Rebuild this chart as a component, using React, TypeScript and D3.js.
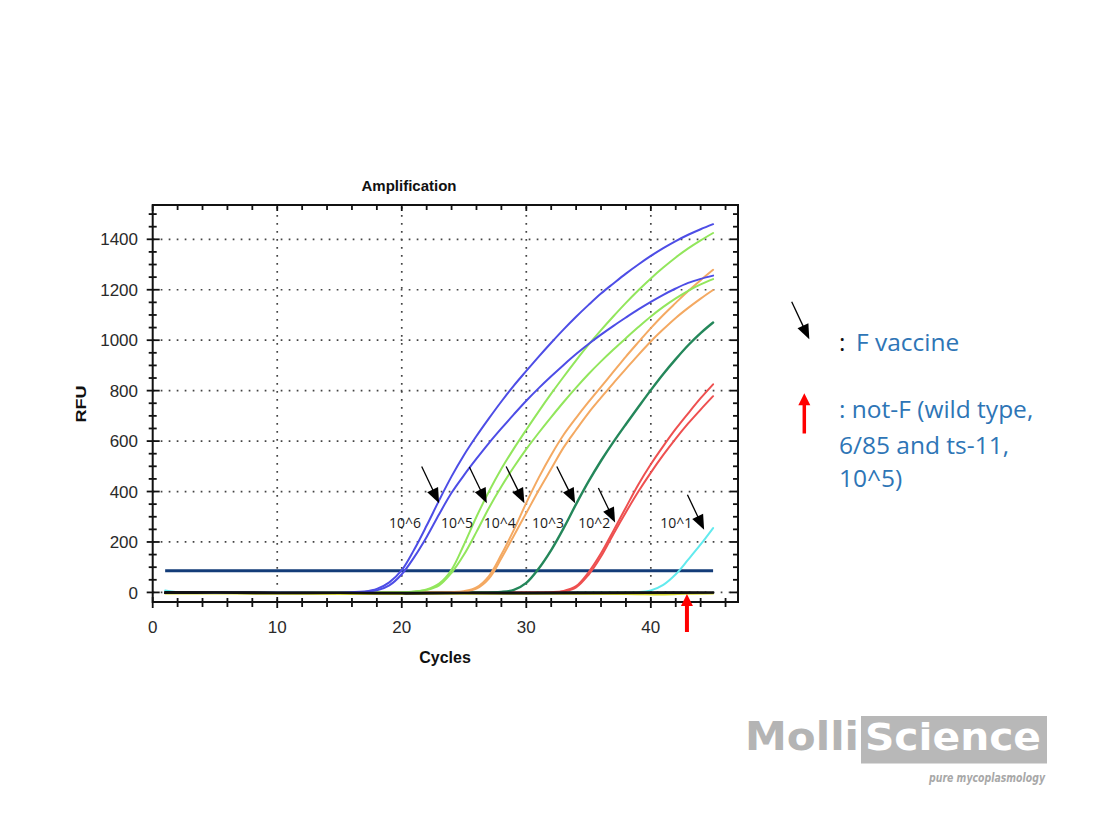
import React from "react";
import * as d3 from "d3";

type Pt = [number, number];

// ---- axis ticks ----
const xTickLabels = [0, 10, 20, 30, 40];
const yTickLabels = [0, 200, 400, 600, 800, 1000, 1200, 1400];
const xDomain: [number, number] = [0, 47];
const yDomain: [number, number] = [-38, 1536];
const threshold = 86;
const thresholdCycles: [number, number] = [1, 45];

// ---- series (cycle, RFU) ----
const blue6a: Pt[] = [[1, -1], [8, 0], [14, -1], [16, 1], [17, 4], [18, 14], [19, 40], [20, 88], [21, 170], [22, 265], [23, 365], [24, 460], [25, 545], [26, 620], [27, 690], [28, 757], [29, 820], [30, 878], [31, 935], [32, 990], [33, 1043], [34, 1093], [35, 1140], [36, 1185], [37, 1225], [38, 1264], [39, 1300], [40, 1334], [41, 1365], [42, 1393], [43, 1418], [44, 1440], [45, 1460]];
const blue6b: Pt[] = [[1, 0], [10, -1], [16, 0], [17, 2], [18, 8], [19, 28], [20, 72], [21, 140], [22, 220], [23, 310], [24, 395], [25, 465], [26, 530], [27, 592], [28, 650], [29, 706], [30, 760], [31, 810], [32, 857], [33, 902], [34, 945], [35, 985], [36, 1022], [37, 1057], [38, 1090], [39, 1122], [40, 1152], [41, 1180], [42, 1205], [43, 1227], [44, 1243], [45, 1256]];
const green5a: Pt[] = [[1, 0], [15, 0], [20, 1], [21, 4], [22, 12], [23, 35], [24, 90], [25, 190], [26, 300], [27, 400], [28, 490], [29, 570], [30, 645], [31, 718], [32, 788], [33, 855], [34, 920], [35, 982], [36, 1040], [37, 1095], [38, 1148], [39, 1198], [40, 1245], [41, 1288], [42, 1328], [43, 1364], [44, 1396], [45, 1425]];
const green5b: Pt[] = [[1, 0], [15, 0], [20, 0], [21, 3], [22, 10], [23, 28], [24, 78], [25, 150], [26, 240], [27, 335], [28, 420], [29, 497], [30, 568], [31, 633], [32, 695], [33, 755], [34, 812], [35, 866], [36, 916], [37, 963], [38, 1008], [39, 1052], [40, 1094], [41, 1132], [42, 1166], [43, 1196], [44, 1221], [45, 1242]];
const orange4a: Pt[] = [[1, 0], [20, 0], [24, 1], [25, 5], [26, 20], [27, 65], [28, 150], [29, 248], [30, 355], [31, 455], [32, 545], [33, 625], [34, 692], [35, 755], [36, 815], [37, 875], [38, 935], [39, 992], [40, 1048], [41, 1100], [42, 1148], [43, 1195], [44, 1238], [45, 1279]];
const orange4b: Pt[] = [[1, 0], [20, 0], [24, 0], [25, 3], [26, 15], [27, 55], [28, 135], [29, 225], [30, 315], [31, 405], [32, 490], [33, 575], [34, 645], [35, 712], [36, 772], [37, 830], [38, 886], [39, 942], [40, 995], [41, 1043], [42, 1088], [43, 1128], [44, 1165], [45, 1199]];
const darkgreen3: Pt[] = [[1, 0], [25, 0], [28, 2], [29, 10], [30, 38], [31, 95], [32, 168], [33, 255], [34, 350], [35, 440], [36, 522], [37, 597], [38, 667], [39, 735], [40, 802], [41, 866], [42, 925], [43, 980], [44, 1028], [45, 1070]];
const red2a: Pt[] = [[1, 0], [30, 0], [32, 1], [33, 6], [34, 25], [35, 80], [36, 155], [37, 245], [38, 337], [39, 428], [40, 508], [41, 580], [42, 648], [43, 710], [44, 770], [45, 825]];
const red2b: Pt[] = [[1, 0], [30, 0], [32, 0], [33, 4], [34, 20], [35, 70], [36, 142], [37, 232], [38, 318], [39, 400], [40, 475], [41, 545], [42, 610], [43, 670], [44, 725], [45, 778]];
const cyan1: Pt[] = [[1, 8], [2, 1], [10, 0], [30, 0], [38, 0], [39, 1], [40, 8], [41, 30], [42, 72], [43, 130], [44, 190], [45, 255]];
const yellowNeg: Pt[] = [[1, -4], [10, -5], [20, -6], [30, -5], [38, -6], [41, -8], [43, -5], [45, -4]];
const blackNegA: Pt[] = [[1, -2], [5, -1], [10, -3], [15, -2], [20, -4], [25, -3], [30, -4], [35, -3], [40, -2], [45, -1]];
const blackNegB: Pt[] = [[1, 2], [10, 0], [20, -1], [30, 0], [40, 1], [45, 0]];

const seriesColors = {
  blue: "#4d4de6",
  lightgreen: "#92e65c",
  orange: "#f4a962",
  darkgreen: "#24875a",
  red: "#ee5050",
  cyan: "#62eaee",
  yellow: "#d6d62a",
  black: "#111111",
};

// ---- annotations: dilution labels and arrows (cycle, RFU) ----
const dilutionLabels = ["10^6", "10^5", "10^4", "10^3", "10^2", "10^1"];
const labelCycles = [20.27, 24.44, 27.86, 31.75, 35.45, 42.04];
const labelRFU = 274;
const arrowStarts: Pt[] = [[21.6, 499], [25.43, 497], [28.38, 499], [32.45, 499], [35.79, 414], [42.94, 387]];
const arrowTips: Pt[] = [[23.0, 354], [26.83, 354], [29.85, 354], [33.92, 354], [37.13, 277], [44.28, 248]];
const notFArrowCycle = 42.9;

function arrowPath(x1: number, y1: number, x2: number, y2: number, len: number, w: number) {
  const dx = x2 - x1, dy = y2 - y1;
  const d = Math.hypot(dx, dy);
  const ux = dx / d, uy = dy / d;
  const bx = x2 - ux * len, by = y2 - uy * len;
  const px = -uy * w / 2, py = ux * w / 2;
  return {
    shaft: { x1, y1, x2: bx + ux * 1, y2: by + uy * 1 },
    head: `${x2},${y2} ${bx + px},${by + py} ${bx - px},${by - py}`,
  };
}

export default function App() {
  const W = 1106, H = 829;
  const P = { left: 152.7, right: 738, top: 205, bottom: 602 };
  const x = d3.scaleLinear().domain(xDomain).range([P.left, P.right]);
  const y = d3.scaleLinear().domain(yDomain).range([P.bottom, P.top]);
  const line = d3.line<Pt>().x(d => x(d[0])).y(d => y(d[1])).curve(d3.curveCatmullRom.alpha(0.5));

  const series: { pts: Pt[]; color: string; w: number }[] = [
    { pts: yellowNeg, color: seriesColors.yellow, w: 2 },
    { pts: cyan1, color: seriesColors.cyan, w: 2 },
    { pts: red2b, color: seriesColors.red, w: 2 },
    { pts: red2a, color: seriesColors.red, w: 2 },
    { pts: darkgreen3, color: seriesColors.darkgreen, w: 2.4 },
    { pts: orange4b, color: seriesColors.orange, w: 2 },
    { pts: orange4a, color: seriesColors.orange, w: 2 },
    { pts: green5b, color: seriesColors.lightgreen, w: 2 },
    { pts: green5a, color: seriesColors.lightgreen, w: 2 },
    { pts: blue6b, color: seriesColors.blue, w: 2 },
    { pts: blue6a, color: seriesColors.blue, w: 2 },
    { pts: blackNegB, color: seriesColors.black, w: 2 },
    { pts: blackNegA, color: seriesColors.black, w: 2.4 },
  ];

  const xMinor = d3.range(0, 47, 2);
  const yMinor = d3.range(0, 1501, 50);
  const gridX = xTickLabels.filter(v => v > 0);
  const tickFont = "'Liberation Sans', Arial, sans-serif";

  const drawArrow = (key: string, x1: number, y1: number, x2: number, y2: number, len: number, w: number, color: string, sw: number) => {
    const a = arrowPath(x1, y1, x2, y2, len, w);
    return <g key={key}>
      <line {...a.shaft} stroke={color} strokeWidth={sw} />
      <polygon points={a.head} fill={color} />
    </g>;
  };

  return (
    <svg width={W} height={H} style={{ position: "absolute", left: 0, top: 0, background: "#fff" }}>
      <rect x={0} y={0} width={W} height={H} fill="#fff" />
      {/* title */}
      <text x={409} y={190.5} textAnchor="middle" fontFamily={tickFont} fontWeight="bold" fontSize={15} fill="#111">Amplification</text>

      {/* grid */}
      <g stroke="#444" strokeWidth={1.7} strokeDasharray="1.7 6.3">
        {gridX.map(v => <line key={"gx" + v} x1={x(v)} x2={x(v)} y1={P.top + 2} y2={P.bottom} />)}
        {yTickLabels.map(v => <line key={"gy" + v} x1={P.left} x2={P.right} y1={y(v)} y2={y(v)} />)}
      </g>

      {/* threshold */}
      <line x1={x(thresholdCycles[0])} x2={x(thresholdCycles[1])} y1={y(threshold)} y2={y(threshold)} stroke="#133c78" strokeWidth={3} />

      {/* curves */}
      <g fill="none" strokeLinejoin="round" strokeLinecap="round">
        {series.map((s, i) => <path key={i} d={line(s.pts) || ""} stroke={s.color} strokeWidth={s.w} />)}
      </g>

      {/* frame */}
      <rect x={P.left} y={P.top} width={P.right - P.left} height={P.bottom - P.top} fill="none" stroke="#111" strokeWidth={2} />
      <g stroke="#111" strokeWidth={1.8}>
        {xMinor.map(v => {
          const major = v % 10 === 0;
          return <g key={"xt" + v}>
            <line x1={x(v)} x2={x(v)} y1={P.bottom - (major ? 5 : 4)} y2={P.bottom + (major ? 6 : 5)} />
            <line x1={x(v)} x2={x(v)} y1={P.top} y2={P.top + (major ? 6 : 5)} />
          </g>;
        })}
        {yMinor.map(v => {
          const major = v % 200 === 0;
          return <g key={"yt" + v}>
            <line x1={P.left - (major ? 6 : 4)} x2={P.left + (major ? 7 : 4)} y1={y(v)} y2={y(v)} />
            <line x1={P.right - (major ? 8 : 5)} x2={P.right} y1={y(v)} y2={y(v)} />
          </g>;
        })}
      </g>

      {/* tick labels */}
      <g fontFamily={tickFont} fontSize={17} fill="#2a2a2a">
        {xTickLabels.map(v => <text key={"xl" + v} x={x(v)} y={632.8} textAnchor="middle">{v}</text>)}
        {yTickLabels.map(v => <text key={"yl" + v} x={138} y={y(v) + 6.1} textAnchor="end">{v}</text>)}
      </g>

      {/* axis titles */}
      <text x={445} y={663} textAnchor="middle" fontFamily={tickFont} fontWeight="bold" fontSize={16} fill="#111">Cycles</text>
      <text transform="translate(85.5,404) rotate(-90)" textAnchor="middle" fontFamily={tickFont} fontWeight="bold" fontSize={15} fill="#111" textLength={37} lengthAdjust="spacingAndGlyphs">RFU</text>

      {/* dilution labels */}
      <g fontFamily="'Open Sans', sans-serif" fontSize={14} fill="#1a1a1a">
        {dilutionLabels.map((t, i) => <text key={t} x={x(labelCycles[i])} y={y(labelRFU)} dy="0.36em" textAnchor="middle">{t}</text>)}
      </g>

      {/* black arrows */}
      {arrowStarts.map((s, i) => drawArrow("ar" + i, x(s[0]), y(s[1]), x(arrowTips[i][0]), y(arrowTips[i][1]), 15, 12, "#000", 1.3))}

      {/* red arrow below axis */}
      {drawArrow("notF", x(notFArrowCycle), 632, x(notFArrowCycle), 594, 12, 12, "#ff0000", 4)}

      {/* legend */}
      {drawArrow("legF", 791.7, 301.7, 809.3, 339.3, 15, 12, "#000", 1.3)}
      {drawArrow("legNotF", 804.3, 433.5, 804.3, 393.3, 12, 12, "#ff0000", 3.5)}
      <g fontFamily="'Open Sans', sans-serif" fontSize={24.5} fill="#2e75b6">
        <text x={839} y={350.7} fill="#111">:</text>
        <text x={856} y={350.7}>F vaccine</text>
        <text x={839} y={418.3}>: not-F (wild type,</text>
        <text x={839} y={453.5}>6/85 and ts-11,</text>
        <text x={839} y={486.7}>10^5)</text>
      </g>

      {/* logo */}
      <g>
        <text x={745} y={749.5} fontFamily="'DejaVu Sans', sans-serif" fontWeight="bold" fontSize={39} fill="#b4b4b4" textLength={114} lengthAdjust="spacingAndGlyphs">Molli</text>
        <rect x={861} y={716} width={186} height={47.5} fill="#b8b8b8" />
        <text x={865} y={749.5} fontFamily="'DejaVu Sans', sans-serif" fontWeight="bold" fontSize={38} fill="#ffffff" textLength={176} lengthAdjust="spacingAndGlyphs">Science</text>
        <text x={929} y={782} fontFamily="'DejaVu Sans', sans-serif" fontWeight="bold" fontStyle="italic" fontSize={13} fill="#a8a8a8" textLength={116} lengthAdjust="spacingAndGlyphs">pure mycoplasmology</text>
      </g>
    </svg>
  );
}
